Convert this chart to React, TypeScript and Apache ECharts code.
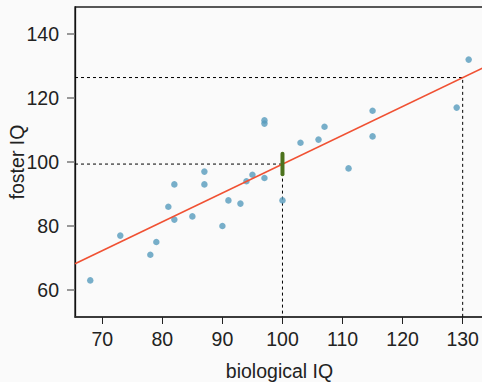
import React, { useEffect, useRef } from "react";
import * as echarts from "echarts";

// Burt's twins: IQ of the twin raised by biological parents vs. the one raised by foster parents
const biologicalIQ = [82, 90, 91, 115, 115, 129, 131, 78, 79, 82, 97, 100, 107, 68, 73, 81, 85, 87, 87, 93, 94, 95, 97, 97, 103, 106, 111];
const fosterIQ = [82, 80, 88, 108, 116, 117, 132, 71, 75, 93, 95, 88, 111, 63, 77, 86, 83, 93, 97, 87, 94, 96, 112, 113, 106, 107, 98];

const xTicks = [70, 80, 90, 100, 110, 120, 130];
const yTicks = [60, 80, 100, 120, 140];

// predictions highlighted with guide lines
const predictAt = [100, 130];
// biological IQ at which the 95% confidence interval for the mean is shown
const ciAt = 100;
const tQuantile = 2.0595; // t(0.975, df = 25)

const X_MIN = 65.46;
const X_MAX = 133.55;
const Y_MIN = 51.56;
const Y_MAX = 148.44;

const FONT = "'Liberation Sans', Arial, Helvetica, sans-serif";

function fit(xs: number[], ys: number[]) {
  const n = xs.length;
  const mx = xs.reduce((a, b) => a + b, 0) / n;
  const my = ys.reduce((a, b) => a + b, 0) / n;
  let sxx = 0;
  let sxy = 0;
  for (let i = 0; i < n; i++) {
    sxx += (xs[i] - mx) ** 2;
    sxy += (xs[i] - mx) * (ys[i] - my);
  }
  const b1 = sxy / sxx;
  const b0 = my - b1 * mx;
  let sse = 0;
  for (let i = 0; i < n; i++) sse += (ys[i] - (b0 + b1 * xs[i])) ** 2;
  const s = Math.sqrt(sse / (n - 2));
  return { b0, b1, s, n, mx, sxx };
}

export default function App() {
  const ref = useRef<HTMLDivElement>(null);

  useEffect(() => {
    if (!ref.current) return;
    const chart = echarts.init(ref.current, undefined, { renderer: "svg" });
    const m = fit(biologicalIQ, fosterIQ);
    const yhat = (x: number) => m.b0 + m.b1 * x;
    const se = m.s * Math.sqrt(1 / m.n + (ciAt - m.mx) ** 2 / m.sxx);
    const ciLow = yhat(ciAt) - tQuantile * se;
    const ciHigh = yhat(ciAt) + tQuantile * se;

    const dashStyle = { color: "#000", width: 1, type: [3, 3] as number[] };

    const guideSeries = predictAt.map((x) => ({
      type: "line" as const,
      symbol: "none",
      silent: true,
      z: 1,
      lineStyle: dashStyle,
      data: [
        [X_MIN, yhat(x)],
        [x, yhat(x)],
        [x, Y_MIN],
      ],
    }));

    chart.setOption({
      animation: false,
      backgroundColor: "#fafafa",
      textStyle: { fontFamily: FONT },
      grid: {
        left: 75,
        right: -2,
        top: 7,
        bottom: 65,
        outerBoundsMode: "none",
        containLabel: false,
        show: true,
        borderColor: "#222",
        borderWidth: 1.3,
        backgroundColor: "transparent",
      },
      xAxis: {
        type: "value",
        min: X_MIN,
        max: X_MAX,
        name: "biological IQ",
        nameLocation: "middle",
        nameGap: 44,
        nameMoveOverlap: false,
        nameTextStyle: { fontSize: 19.5, color: "#222", fontFamily: FONT },
        splitLine: { show: false },
        axisLine: { show: true, lineStyle: { color: "#333", width: 1.5 } },
        axisTick: { show: true, length: 7, lineStyle: { color: "#222", width: 1 }, customValues: xTicks },
        axisLabel: { margin: 12, fontSize: 19.5, color: "#222", fontFamily: FONT, customValues: xTicks },
      },
      yAxis: {
        type: "value",
        min: Y_MIN,
        max: Y_MAX,
        name: "foster IQ",
        nameLocation: "middle",
        nameGap: 48,
        nameMoveOverlap: false,
        nameTextStyle: { fontSize: 19.5, color: "#222", fontFamily: FONT },
        splitLine: { show: false },
        axisLine: { show: true, lineStyle: { color: "#111", width: 1.3 } },
        axisTick: { show: true, length: 8, lineStyle: { color: "#777", width: 1.5 }, customValues: yTicks },
        axisLabel: { margin: 16, fontSize: 19.5, color: "#222", fontFamily: FONT, customValues: yTicks },
      },
      series: [
        ...guideSeries,
        {
          type: "scatter",
          symbolSize: 6.5,
          z: 2,
          itemStyle: { color: "#569BBD" },
          data: biologicalIQ.map((x, i) => [x, fosterIQ[i]]),
        },
        {
          type: "line",
          symbol: "none",
          z: 3,
          lineStyle: { color: "#F05133", width: 1.6 },
          data: [
            [X_MIN, yhat(X_MIN)],
            [X_MAX, yhat(X_MAX)],
          ],
        },
        {
          type: "line",
          symbol: "none",
          z: 4,
          lineStyle: { color: "#4C721D", width: 4, cap: "round" },
          data: [
            [ciAt, ciLow],
            [ciAt, ciHigh],
          ],
        },
      ],
    });
    return () => chart.dispose();
  }, []);

  return (
    <div
      ref={ref}
      style={{ position: "fixed", left: 0, top: 0, width: 482, height: 382 }}
    />
  );
}
